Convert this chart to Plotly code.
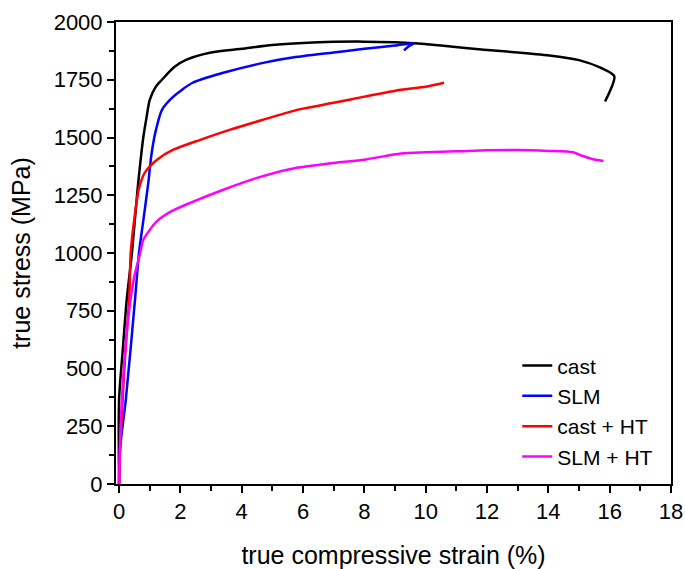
import plotly.graph_objects as go

# ---- data ----
cast_x = [0, 0.0, 0.12, 0.25, 0.42, 0.6, 0.79, 0.9, 1.0, 1.2, 1.4, 1.8, 2.2, 3.0, 4.0, 5.0, 6.0, 7.0, 8.0, 9.0, 9.6, 10.5, 11.9, 13.0, 14.1, 15.0, 15.7, 16.15, 15.85]
cast_y = [0, 365, 580, 798, 1000, 1270, 1500, 1590, 1663, 1720, 1750, 1805, 1837, 1868, 1884, 1900, 1909, 1914, 1915, 1912, 1908, 1898, 1880, 1868, 1854, 1835, 1802, 1765, 1656]

slm_x = [0, 0.03, 0.22, 0.52, 0.65, 0.8, 0.95, 1.05, 1.18, 1.4, 1.77, 2.4, 3.4, 4.7, 5.6, 7.0, 8.0, 9.0, 9.62, 9.45, 9.29]
slm_y = [0, 150, 365, 798, 1000, 1150, 1300, 1420, 1520, 1620, 1677, 1737, 1780, 1823, 1845, 1868, 1884, 1898, 1908, 1895, 1877]

casth_x = [0, 0.05, 0.2, 0.33, 0.38, 0.5, 0.65, 0.85, 1.24, 1.77, 2.65, 3.63, 4.7, 5.6, 6.0, 7.0, 8.0, 9.2, 10.0, 10.6]
casth_y = [0, 200, 560, 798, 1000, 1150, 1280, 1350, 1404, 1447, 1490, 1534, 1577, 1612, 1625, 1650, 1677, 1707, 1720, 1737]

slmht_x = [0, 0.05, 0.2, 0.33, 0.5, 0.69, 0.79, 1.0, 1.23, 1.7, 2.32, 3.4, 4.5, 5.6, 7.0, 8.0, 9.2, 10.0, 11.0, 12.0, 13.0, 14.0, 14.8, 15.1, 15.4, 15.8]
slmht_y = [0, 250, 581, 754, 900, 1000, 1057, 1100, 1137, 1180, 1217, 1274, 1325, 1364, 1390, 1404, 1431, 1436, 1440, 1445, 1446, 1442, 1436, 1421, 1408, 1398]

series = [
    ("cast", cast_x, cast_y, "#000000"),
    ("SLM", slm_x, slm_y, "#0000FF"),
    ("cast + HT", casth_x, casth_y, "#FF0000"),
    ("SLM + HT", slmht_x, slmht_y, "#FF00FF"),
]

FONT = "Arial, Liberation Sans, sans-serif"

fig = go.Figure()
for name, xs, ys, col in series:
    fig.add_trace(go.Scatter(x=xs, y=ys, mode="lines", name=name,
                             line=dict(color=col, width=2.5, shape="spline", smoothing=0.7)))

axis_common = dict(
    showline=True, linecolor="black", linewidth=2, mirror=True,
    ticks="outside", ticklen=7, tickwidth=2, tickcolor="black",
    showgrid=False, zeroline=False, automargin=False,
    tickfont=dict(family=FONT, size=22, color="black"),
)

fig.update_xaxes(
    range=[-0.1, 18], tick0=0, dtick=2,
    minor=dict(ticks="outside", ticklen=5, tickwidth=2, tickcolor="black", dtick=1, tick0=0, showgrid=False),
    title=dict(text="true compressive strain (%)", font=dict(family=FONT, size=25, color="black"), standoff=25),
    **axis_common,
)
fig.update_yaxes(
    range=[0, 2000], tick0=0, dtick=250,
    minor=dict(ticks="outside", ticklen=5, tickwidth=2, tickcolor="black", dtick=125, tick0=0, showgrid=False),
    title=dict(text="true stress (MPa)", font=dict(family=FONT, size=25, color="black"), standoff=16),
    **axis_common,
)

fig.update_layout(
    width=685, height=569,
    margin=dict(l=116, r=14, t=22, b=85),
    paper_bgcolor="white", plot_bgcolor="white",
    font=dict(family=FONT, color="black"),
    legend=dict(x=0.723, y=0.30, xanchor="left", yanchor="top",
                bgcolor="rgba(0,0,0,0)", borderwidth=0,
                font=dict(family=FONT, size=21, color="black"),
                tracegroupgap=0),
)

# remove the default 8px page margin so the figure fills the window exactly
fig.write_html("out.html",
               config={"displayModeBar": False},
               post_script="document.body.style.margin='0';document.body.style.overflow='hidden';")
